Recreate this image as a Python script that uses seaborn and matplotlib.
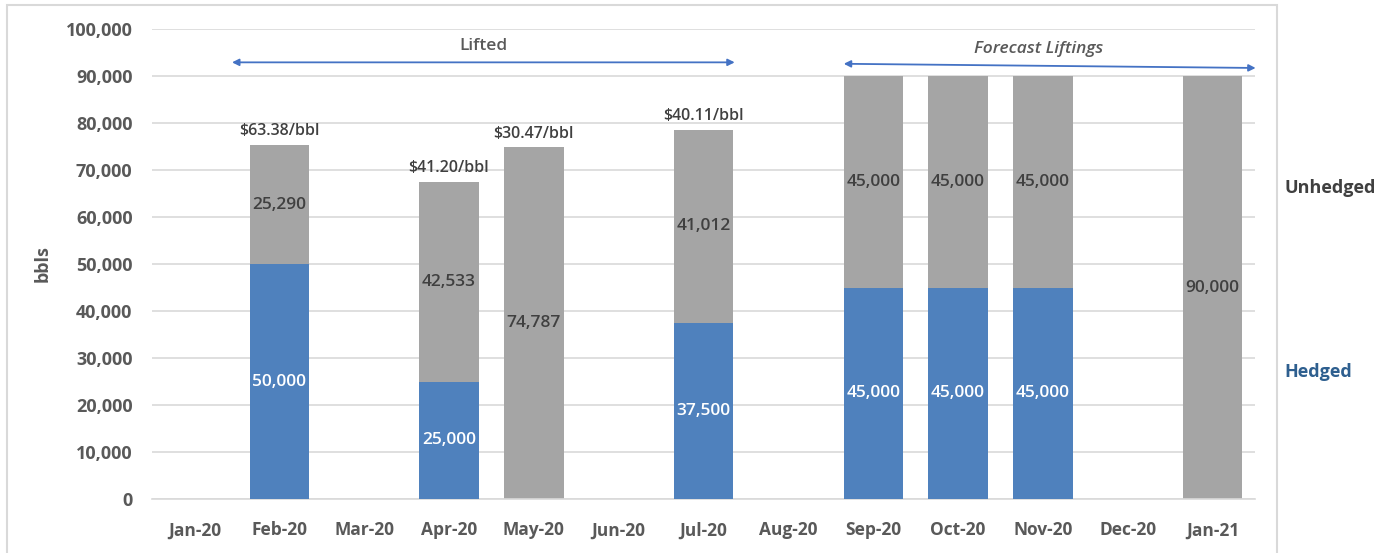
import numpy as np
import pandas as pd
import matplotlib
matplotlib.use("Agg")
import matplotlib.pyplot as plt
from matplotlib.patches import Rectangle
import seaborn as sns

months = ["Jan-20", "Feb-20", "Mar-20", "Apr-20", "May-20", "Jun-20", "Jul-20",
          "Aug-20", "Sep-20", "Oct-20", "Nov-20", "Dec-20", "Jan-21"]
hedged = [0, 50000, 0, 25000, 0, 0, 37500, 0, 45000, 45000, 45000, 0, 0]
unhedged = [0, 25290, 0, 42533, 74787, 0, 41012, 0, 45000, 45000, 45000, 0, 90000]
prices = {"Feb-20": "$63.38/bbl", "Apr-20": "$41.20/bbl",
          "May-20": "$30.47/bbl", "Jul-20": "$40.11/bbl"}

df = pd.DataFrame({"month": months, "hedged": hedged, "unhedged": unhedged})
df["total"] = df["hedged"] + df["unhedged"]

sns.set_style("white")
plt.rcParams["font.family"] = ["Open Sans", "DejaVu Sans"]

BLUE = "#4f81bd"
GREY = "#a5a5a5"
TXT = "#595959"

fig = plt.figure(figsize=(13.86, 5.53), dpi=100)
ax = fig.add_axes([0.1097, 0.0976, 0.7958, 0.85])

sns.barplot(data=df, x="month", y="total", order=months, color=GREY,
            width=0.7, saturation=1, linewidth=0, ax=ax, zorder=2)
sns.barplot(data=df, x="month", y="hedged", order=months, color=BLUE,
            width=0.7, saturation=1, linewidth=0, ax=ax, zorder=3)

ax.set_ylim(0, 100000)
ax.set_xlim(-0.5, len(months) - 0.5)
ax.set_yticks(np.arange(0, 100001, 10000))
ax.set_yticklabels([f"{v:,}" for v in range(0, 100001, 10000)])
ax.yaxis.grid(True, color="#d9d9d9", linewidth=1.2, zorder=0)
ax.set_axisbelow(True)
for s in ["top", "right", "left"]:
    ax.spines[s].set_visible(False)
ax.spines["bottom"].set_color("#d9d9d9")
ax.spines["bottom"].set_linewidth(1.2)
ax.tick_params(axis="y", length=0, labelsize=13, labelcolor=TXT, pad=14)
ax.tick_params(axis="x", length=0, labelsize=12.5, labelcolor=TXT, pad=16)
for lbl in ax.get_xticklabels() + ax.get_yticklabels():
    lbl.set_fontweight("bold")
ax.set_xticks(np.arange(-0.5, len(months), 1), minor=True)
ax.tick_params(axis="x", which="minor", length=8, color="#d9d9d9", width=1.2)
ax.set_xlabel("")
ax.set_ylabel("bbls", fontsize=13, fontweight="bold", color=TXT, labelpad=10)

# segment labels
for i, (h, u) in enumerate(zip(hedged, unhedged)):
    if h:
        ax.text(i, h / 2, f"{h:,}", ha="center", va="center", color="white",
                fontsize=12.5, fontweight="semibold", zorder=5)
    if u:
        ax.text(i, h + u / 2, f"{u:,}", ha="center", va="center", color="#404040",
                fontsize=12.5, fontweight="semibold", zorder=5)

# price annotations
for m, p in prices.items():
    i = months.index(m)
    top = hedged[i] + unhedged[i]
    ax.text(i, top + 1200, p, ha="center", va="bottom", color="#404040",
            fontsize=11.5, fontweight="semibold", zorder=5)

# period arrows
arrow = dict(arrowstyle="<|-|>", color="#4472c4", lw=1.3, mutation_scale=10)
ax.annotate("", xy=(0.41, 92900), xytext=(6.4, 92900), arrowprops=arrow,
            annotation_clip=False)
ax.text(3.41, 96300, "Lifted", ha="center", va="center", color=TXT, fontsize=12.5,
        fontweight="semibold")
ax.annotate("", xy=(7.62, 92600), xytext=(12.54, 91700), arrowprops=arrow,
            annotation_clip=False)
ax.text(9.95, 95800, "Forecast Liftings", ha="center", va="center", color=TXT,
        fontsize=12.5, fontstyle="italic", fontweight="semibold")

# right-hand legend text
fig.text(0.927, 1 - 188 / 553, "Unhedged", ha="left", va="center", color="#404040",
         fontsize=13, fontweight="bold")
fig.text(0.927, 1 - 372 / 553, "Hedged", ha="left", va="center", color="#2e5f8f",
         fontsize=13, fontweight="bold")

# chart border
fig.patches.append(Rectangle((7 / 1386, -0.01), 1270 / 1386, 1 - 5 / 553 + 0.01,
                             transform=fig.transFigure, fill=False,
                             edgecolor="#d9d9d9", linewidth=1.5, zorder=0))

fig.savefig("out.png", dpi=100)
